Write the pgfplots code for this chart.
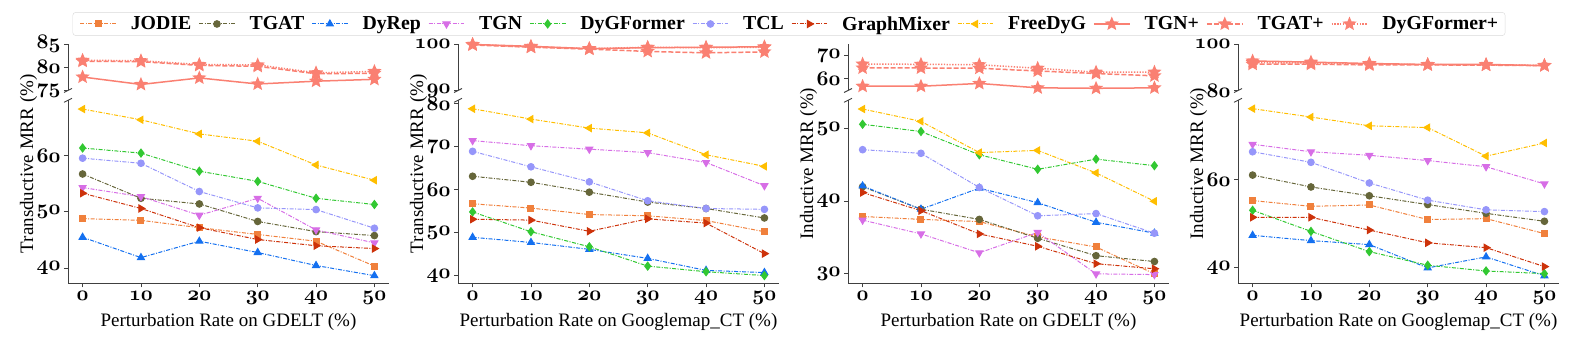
\documentclass[border=0pt]{standalone}
\usepackage{fontspec}
\setmainfont{Liberation Serif}
\usepackage{pgfplots}
\pgfplotsset{compat=1.18}
\newcommand\osf{\fontsize{20.74}{22}\usefont{OML}{cmm}{b}{it}}
\newcommand\labfont{\fontsize{19}{21}\selectfont}
\newcommand\legfont{\fontsize{19.8}{21}\selectfont\bfseries}
\definecolor{cJ}{HTML}{F0803C}
\definecolor{cTA}{HTML}{66663A}
\definecolor{cDR}{HTML}{1470F0}
\definecolor{cTN}{HTML}{D76EE6}
\definecolor{cDG}{HTML}{32C832}
\definecolor{cTC}{HTML}{9696FA}
\definecolor{cGM}{HTML}{CD320A}
\definecolor{cFD}{HTML}{FFBE00}
\definecolor{cSA}{HTML}{FA8072}
\pgfdeclareplotmark{fstar}{%
  \pgfpathmoveto{\pgfpointpolar{90}{\pgfplotmarksize}}%
  \pgfpathlineto{\pgfpointpolar{126}{0.45\pgfplotmarksize}}%
  \pgfpathlineto{\pgfpointpolar{162}{\pgfplotmarksize}}%
  \pgfpathlineto{\pgfpointpolar{198}{0.45\pgfplotmarksize}}%
  \pgfpathlineto{\pgfpointpolar{234}{\pgfplotmarksize}}%
  \pgfpathlineto{\pgfpointpolar{270}{0.45\pgfplotmarksize}}%
  \pgfpathlineto{\pgfpointpolar{306}{\pgfplotmarksize}}%
  \pgfpathlineto{\pgfpointpolar{342}{0.45\pgfplotmarksize}}%
  \pgfpathlineto{\pgfpointpolar{18}{\pgfplotmarksize}}%
  \pgfpathlineto{\pgfpointpolar{54}{0.45\pgfplotmarksize}}%
  \pgfpathclose
  \pgfusepathqfillstroke}
\tikzset{brk/.style={black!75, line width=0.9pt}}
\pgfplotsset{
  dd/.style={line width=1pt, dash pattern=on 4pt off 1.5pt on 1pt off 1.5pt},
  sJ/.style={dd, color=cJ, mark=square*, mark size=3pt, mark options={solid}},
  sTA/.style={dd, color=cTA, mark=*, mark size=3.3pt, mark options={solid}},
  sDR/.style={dd, color=cDR, mark=triangle*, mark size=4pt, mark options={solid}},
  sTN/.style={dd, color=cTN, mark=triangle*, mark size=4pt, mark options={solid, rotate=180}},
  sDG/.style={dd, color=cDG, mark=diamond*, mark size=4pt, mark options={solid}},
  sTC/.style={dd, color=cTC, mark=*, mark size=3.3pt, mark options={solid}},
  sGM/.style={dd, color=cGM, mark=triangle*, mark size=4pt, mark options={solid, rotate=-90}},
  sFD/.style={dd, color=cFD, mark=triangle*, mark size=4pt, mark options={solid, rotate=90}},
  sTNp/.style={color=cSA, line width=1.5pt, solid, mark=fstar, mark size=5.5pt, mark options={solid}},
  sTAp/.style={color=cSA, line width=1.5pt, dash pattern=on 5pt off 2pt, mark=fstar, mark size=5.5pt, mark options={solid}},
  sDGp/.style={color=cSA, line width=1.5pt, dash pattern=on 1.3pt off 1.5pt, mark=fstar, mark size=5.5pt, mark options={solid}},
  pan/.style={scale only axis, width=321pt, xmin=-2.5, xmax=52.5, clip=false,
    anchor=south west,
    axis line style={draw=black!75, line width=0.9pt, -},
    tick align=outside, major tick length=4pt,
    tick style={black!75, line width=0.9pt},
    ticklabel style={font=\osf},
    /pgf/number format/assume math mode=true,
    every axis x label/.style={at={(axis description cs:0.5,-0.235)}, anchor=base, font=\labfont},
    every axis y label/.style={at={(axis description cs:-0.109,0.653)}, rotate=90, anchor=base, font=\labfont},
  },
  low/.style={pan, height=183pt, axis x line*=bottom, axis y line*=left, xtick={0,10,20,30,40,50}},
  up/.style={pan, height=46.5pt, axis x line=none, axis y line*=left, xtick=\empty},
}
\begin{document}
\begin{tikzpicture}
\useasboundingbox (0pt,0pt) rectangle (1578pt,345pt);
% ---------------- Panel 1 ----------------
\begin{axis}[low, at={(68pt,61.7pt)}, ymin=37.35, ymax=69.75, ytick={40,50,60},
  xlabel={Perturbation Rate on GDELT (\%)}, ylabel={Transductive MRR (\%)},
  legend columns=11,
  legend style={at={(axis description cs:2.246,1.417)}, anchor=center, draw=black!15, rounded corners=3pt,
    font=\legfont, inner xsep=7pt, inner ysep=4pt, nodes={inner sep=0pt},
    /tikz/every odd column/.append style={column sep=14.3pt},
    /tikz/every even column/.append style={column sep=7.3pt}},
  legend image code/.code={\draw[mark repeat=2,mark phase=2] plot coordinates {(0pt,0pt) (17.85pt,0pt) (35.7pt,0pt)};},
  ]
\addplot[sJ] coordinates {(0,48.8) (10,48.5) (20,47.2) (30,46.0) (40,44.8) (50,40.4)};
\addplot[sTA] coordinates {(0,56.7) (10,52.4) (20,51.4) (30,48.3) (40,46.5) (50,45.8)};
\addplot[sDR] coordinates {(0,45.5) (10,41.9) (20,44.8) (30,42.8) (40,40.5) (50,38.7)};
\addplot[sTN] coordinates {(0,54.3) (10,52.7) (20,49.4) (30,52.4) (40,46.8) (50,44.5)};
\addplot[sDG] coordinates {(0,61.3) (10,60.4) (20,57.2) (30,55.4) (40,52.4) (50,51.3)};
\addplot[sTC] coordinates {(0,59.5) (10,58.6) (20,53.6) (30,50.7) (40,50.4) (50,47.1)};
\addplot[sGM] coordinates {(0,53.3) (10,50.6) (20,47.2) (30,45.1) (40,44.0) (50,43.5)};
\addplot[sFD] coordinates {(0,68.2) (10,66.3) (20,63.8) (30,62.5) (40,58.3) (50,55.6)};
\addlegendimage{sTNp}
\addlegendimage{sTAp}
\addlegendimage{sDGp}
\legend{JODIE,TGAT,DyRep,TGN,DyGFormer,TCL,GraphMixer,FreeDyG,TGN+,TGAT+,DyGFormer+}
\draw[brk] ([xshift=-4pt,yshift=-2pt]rel axis cs:0,1) -- ([xshift=4pt,yshift=2pt]rel axis cs:0,1);
\end{axis}
\begin{axis}[up, at={(68pt,254.5pt)}, ymin=75, ymax=85, ytick={75,80,85}]
\addplot[sTNp] coordinates {(0,77.9) (10,76.3) (20,77.7) (30,76.4) (40,77.0) (50,77.4)};
\addplot[sTAp] coordinates {(0,81.3) (10,81.2) (20,80.4) (30,80.2) (40,78.6) (50,78.7)};
\addplot[sDGp] coordinates {(0,81.5) (10,81.4) (20,80.6) (30,80.5) (40,78.8) (50,79.1)};
\draw[brk] ([xshift=-4pt,yshift=-2pt]rel axis cs:0,0) -- ([xshift=4pt,yshift=2pt]rel axis cs:0,0);
\end{axis}
% ---------------- Panel 2 ----------------
\begin{axis}[low, at={(458pt,61.7pt)}, ymin=38.2, ymax=80.77, ytick={40,50,60,70,80},
  xlabel={Perturbation Rate on Googlemap\_CT (\%)}, ylabel={Transductive MRR (\%)}]
\addplot[sJ] coordinates {(0,56.7) (10,55.7) (20,54.2) (30,53.9) (40,52.8) (50,50.2)};
\addplot[sTA] coordinates {(0,63.1) (10,61.7) (20,59.4) (30,57.1) (40,55.6) (50,53.4)};
\addplot[sDR] coordinates {(0,48.9) (10,47.7) (20,46.1) (30,44.0) (40,41.2) (50,40.7)};
\addplot[sTN] coordinates {(0,71.4) (10,70.2) (20,69.4) (30,68.6) (40,66.3) (50,60.9)};
\addplot[sDG] coordinates {(0,54.8) (10,50.2) (20,46.7) (30,42.2) (40,40.9) (50,40.0)};
\addplot[sTC] coordinates {(0,68.9) (10,65.3) (20,61.8) (30,57.4) (40,55.6) (50,55.4)};
\addplot[sGM] coordinates {(0,53.1) (10,52.9) (20,50.3) (30,53.2) (40,52.2) (50,45.1)};
\addplot[sFD] coordinates {(0,78.8) (10,76.4) (20,74.3) (30,73.2) (40,68.1) (50,65.4)};
\draw[brk] ([xshift=-4pt,yshift=-2pt]rel axis cs:0,1) -- ([xshift=4pt,yshift=2pt]rel axis cs:0,1);
\end{axis}
\begin{axis}[up, at={(458pt,254.5pt)}, ymin=90, ymax=100, ytick={90,100}]
\addplot[sTNp] coordinates {(0,99.9) (10,99.5) (20,99.0) (30,99.2) (40,99.3) (50,99.4)};
\addplot[sTAp] coordinates {(0,99.8) (10,99.3) (20,98.9) (30,98.4) (40,98.1) (50,98.3)};
\addplot[sDGp] coordinates {(0,99.9) (10,99.4) (20,99.0) (30,99.3) (40,99.2) (50,99.3)};
\draw[brk] ([xshift=-4pt,yshift=-2pt]rel axis cs:0,0) -- ([xshift=4pt,yshift=2pt]rel axis cs:0,0);
\end{axis}
% ---------------- Panel 3 ----------------
\begin{axis}[low, at={(848pt,61.7pt)}, ymin=28.7, ymax=53.9, ytick={30,40,50},
  xlabel={Perturbation Rate on GDELT (\%)}, ylabel={Inductive MRR (\%)}]
\addplot[sJ] coordinates {(0,37.9) (10,37.5) (20,37.2) (30,35.1) (40,33.7) (50,30.0)};
\addplot[sTA] coordinates {(0,42.0) (10,38.9) (20,37.5) (30,34.9) (40,32.5) (50,31.7)};
\addplot[sDR] coordinates {(0,42.1) (10,38.9) (20,41.8) (30,39.8) (40,37.1) (50,35.6)};
\addplot[sTN] coordinates {(0,37.4) (10,35.5) (20,32.9) (30,35.7) (40,30.0) (50,29.9)};
\addplot[sDG] coordinates {(0,50.6) (10,49.6) (20,46.4) (30,44.4) (40,45.8) (50,44.9)};
\addplot[sTC] coordinates {(0,47.1) (10,46.6) (20,41.9) (30,38.0) (40,38.3) (50,35.6)};
\addplot[sGM] coordinates {(0,41.2) (10,38.7) (20,35.5) (30,33.8) (40,31.4) (50,30.7)};
\addplot[sFD] coordinates {(0,52.7) (10,51.0) (20,46.7) (30,47.0) (40,43.9) (50,40.0)};
\draw[brk] ([xshift=-4pt,yshift=-2pt]rel axis cs:0,1) -- ([xshift=4pt,yshift=2pt]rel axis cs:0,1);
\end{axis}
\begin{axis}[up, at={(848pt,254.5pt)}, ymin=54.85, ymax=75, ytick={60,70}]
\addplot[sTNp] coordinates {(0,56.7) (10,56.7) (20,57.9) (30,56.0) (40,55.8) (50,56.0)};
\addplot[sTAp] coordinates {(0,64.6) (10,64.6) (20,64.5) (30,63.3) (40,62.2) (50,61.2)};
\addplot[sDGp] coordinates {(0,66.3) (10,66.2) (20,66.0) (30,64.5) (40,62.8) (50,62.8)};
\draw[brk] ([xshift=-4pt,yshift=-2pt]rel axis cs:0,0) -- ([xshift=4pt,yshift=2pt]rel axis cs:0,0);
\end{axis}
% ---------------- Panel 4 ----------------
\begin{axis}[low, at={(1238pt,61.7pt)}, ymin=36.4, ymax=78.0, ytick={40,60},
  xlabel={Perturbation Rate on Googlemap\_CT (\%)}, ylabel={Inductive MRR (\%)}]
\addplot[sJ] coordinates {(0,55.2) (10,53.9) (20,54.2) (30,50.9) (40,51.1) (50,47.7)};
\addplot[sTA] coordinates {(0,61.0) (10,58.3) (20,56.3) (30,54.3) (40,52.3) (50,50.5)};
\addplot[sDR] coordinates {(0,47.3) (10,46.1) (20,45.2) (30,39.9) (40,42.4) (50,38.1)};
\addplot[sTN] coordinates {(0,68.0) (10,66.3) (20,65.5) (30,64.3) (40,62.9) (50,59.0)};
\addplot[sDG] coordinates {(0,53.0) (10,48.2) (20,43.6) (30,40.5) (40,39.2) (50,38.6)};
\addplot[sTC] coordinates {(0,66.3) (10,63.9) (20,59.2) (30,55.3) (40,53.1) (50,52.7)};
\addplot[sGM] coordinates {(0,51.4) (10,51.4) (20,48.5) (30,45.6) (40,44.5) (50,40.2)};
\addplot[sFD] coordinates {(0,76.1) (10,74.2) (20,72.2) (30,71.8) (40,65.3) (50,68.3)};
\draw[brk] ([xshift=-4pt,yshift=-2pt]rel axis cs:0,1) -- ([xshift=4pt,yshift=2pt]rel axis cs:0,1);
\end{axis}
\begin{axis}[up, at={(1238pt,254.5pt)}, ymin=80, ymax=100, ytick={80,100}]
\addplot[sTNp] coordinates {(0,92.7) (10,92.2) (20,91.6) (30,91.2) (40,91.2) (50,90.7)};
\addplot[sTAp] coordinates {(0,91.3) (10,91.3) (20,91.0) (30,91.0) (40,90.9) (50,90.7)};
\addplot[sDGp] coordinates {(0,92.0) (10,91.8) (20,91.4) (30,91.1) (40,91.0) (50,90.8)};
\draw[brk] ([xshift=-4pt,yshift=-2pt]rel axis cs:0,0) -- ([xshift=4pt,yshift=2pt]rel axis cs:0,0);
\end{axis}
\end{tikzpicture}
\end{document}
